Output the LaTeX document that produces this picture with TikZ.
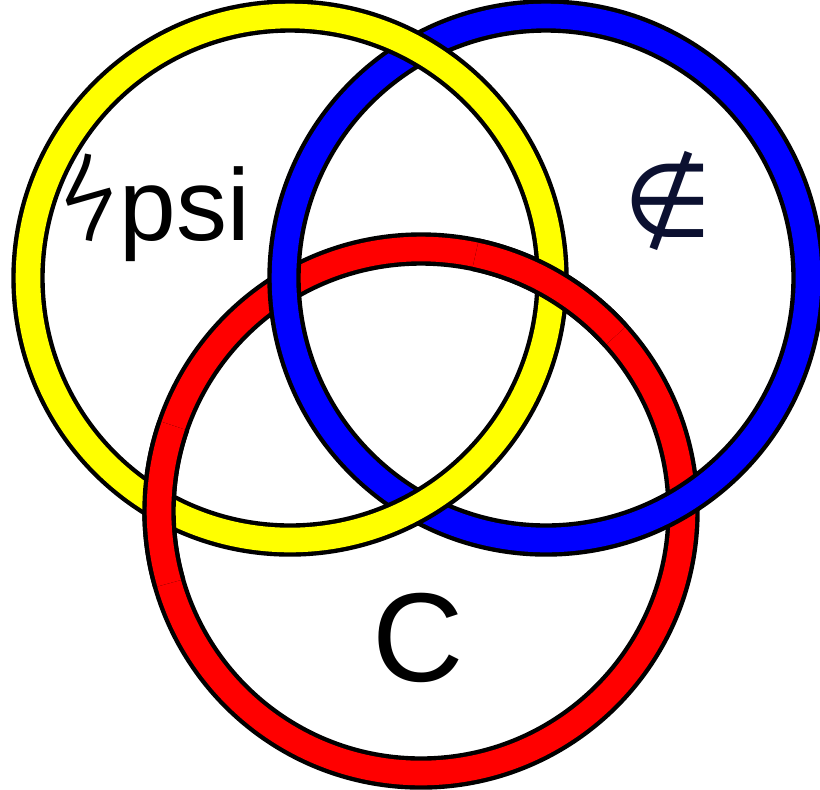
\documentclass[tikz,border=0pt]{standalone}
\usepackage{fontspec}
\setmainfont{Liberation Sans}
\newfontfamily\symfont{DejaVu Sans}
\newfontfamily\boltfont{Fira Sans Light}
\usetikzlibrary{positioning}
\definecolor{cyel}{HTML}{FFFF00}
\definecolor{cblu}{HTML}{0000FF}
\definecolor{cred}{HTML}{FF0000}
\definecolor{cnavy}{HTML}{0B1030}
\tikzset{
  every picture/.style={x=0.02cm, y=-0.02cm},
  rimline/.style={draw=black, line width=19pt},
  bandline/.style={draw=#1, line width=14pt},
  label/.style={font=\fontsize{58}{60}\selectfont, inner sep=0pt},
}

\begin{document}
\begin{tikzpicture}
  \useasboundingbox (0,0) rectangle (820,789);
  % \ring{centre}{colour}
  \newcommand{\ring}[2]{
    \draw[rimline] (#1) circle (262);
    \draw[bandline=#2] (#1) circle (262);}
  % \overarc{centre}{from angle}{to angle}{colour}
  \newcommand{\overarc}[4]{
    \draw[rimline] (#1) ++(#2:262) arc (#2:#3:262);
    \draw[bandline=#4] (#1) ++(#2:262) arc (#2:#3:262);}
  \coordinate (yc) at (290,278);
  \coordinate (bc) at (546,278);
  \coordinate (rc) at (421,511);
  \ring{rc}{cred}
  \ring{bc}{cblu}
  \ring{yc}{cyel}
  % red passes over yellow at both crossings
  \overarc{rc}{-78}{-42}{cred}
  \overarc{rc}{164}{199}{cred}
  \node[label, anchor=base west] (psi) at (64,240) {{\boltfont\fontsize{66}{68}\selectfont ϟ}\kern0.12cm psi};
  \node[label, anchor=base, text=cnavy] (notin) at (668,236) {{\symfont ∉}};
  \node[label, anchor=base, font=\fontsize{72}{74}\selectfont] (cee) at (418,681) {C};
\end{tikzpicture}
\end{document}
